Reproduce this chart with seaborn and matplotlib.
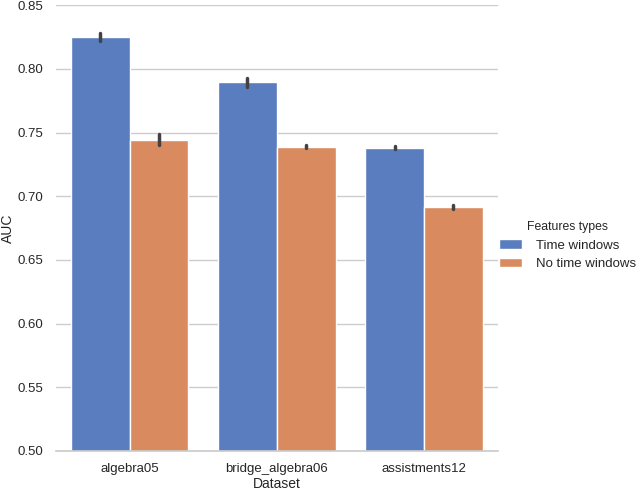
import pandas as pd
import seaborn as sns
import matplotlib.pyplot as plt

datasets = ["algebra05", "bridge_algebra06", "assistments12"]
feature_types = ["Time windows", "No time windows"]

# per-fold AUC (low, mid, high)
auc_time = {
    "algebra05": [0.822, 0.825, 0.828],
    "bridge_algebra06": [0.786, 0.789, 0.793],
    "assistments12": [0.7368, 0.7382, 0.7396],
}
auc_no_time = {
    "algebra05": [0.740, 0.7445, 0.749],
    "bridge_algebra06": [0.7375, 0.739, 0.7405],
    "assistments12": [0.6898, 0.6914, 0.693],
}

rows = []
for d in datasets:
    for v in auc_time[d]:
        rows.append({"Dataset": d, "AUC": v, "Features types": feature_types[0]})
    for v in auc_no_time[d]:
        rows.append({"Dataset": d, "AUC": v, "Features types": feature_types[1]})
df = pd.DataFrame(rows)

sns.set_theme(style="whitegrid")
plt.rcParams["font.family"] = ["Liberation Sans", "DejaVu Sans"]

fig = plt.figure(figsize=(6.4, 4.91), dpi=100)
ax = fig.add_axes([0.0875, 0.0815, 0.69, 0.908])

sns.barplot(
    data=df,
    x="Dataset",
    y="AUC",
    hue="Features types",
    hue_order=feature_types,
    order=datasets,
    palette="muted",
    errorbar=("pi", 100),
    err_kws={"linewidth": 2.5},
    ax=ax,
)

ax.set_ylim(0.5, 0.85)
ax.set_yticks([0.50, 0.55, 0.60, 0.65, 0.70, 0.75, 0.80, 0.85])
ax.set_yticklabels(["0.50", "0.55", "0.60", "0.65", "0.70", "0.75", "0.80", "0.85"])
ax.tick_params(labelsize=9.5, colors="#262626", pad=3)
ax.set_xlabel("Dataset", fontsize=10, labelpad=1, color="#262626")
ax.set_ylabel("AUC", fontsize=10, labelpad=2, color="#262626")
ax.grid(axis="x", visible=False)
sns.despine(ax=ax, left=True)

handles, labels = ax.get_legend_handles_labels()
ax.get_legend().remove()
fig.legend(handles, labels, title="Features types", loc="center right",
           bbox_to_anchor=(1.012, 0.5), frameon=False, fontsize=9.5,
           title_fontsize=8.8, handlelength=1.75, handletextpad=1.0)

plt.savefig("out.png", dpi=100)
